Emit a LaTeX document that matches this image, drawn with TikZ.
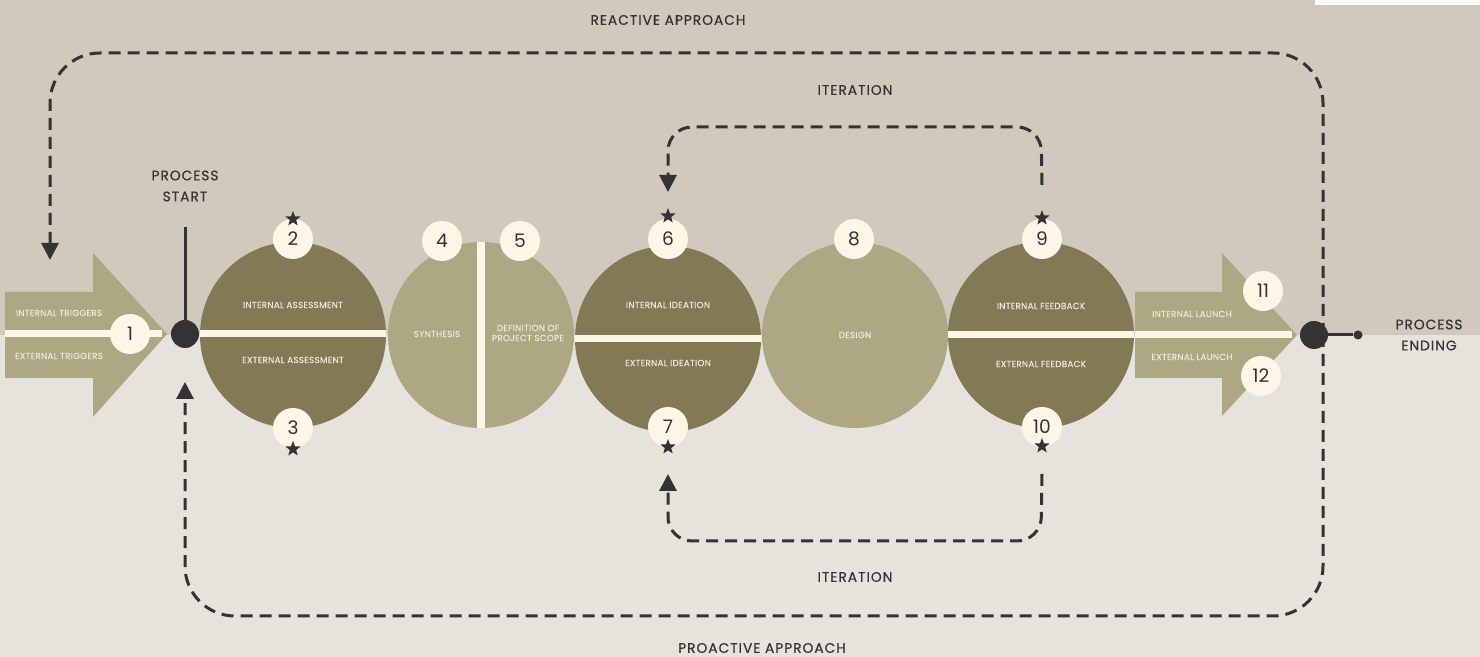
\documentclass[tikz,border=0pt]{standalone}
\usepackage{fontspec}
\setmainfont{Poppins}
\newfontfamily\capsfont[LetterSpace=7,FakeBold=0.4]{Poppins}
\newfontfamily\tinyfont[LetterSpace=3,FakeBold=0.3]{Poppins}
\usetikzlibrary{arrows.meta,shapes.geometric,positioning,calc}
\definecolor{bgTop}     {RGB}{208,201,188}
\definecolor{bgBottom}  {RGB}{230,227,221}
\definecolor{oliveDark} {RGB}{130,122, 85}
\definecolor{oliveLight}{RGB}{174,167,131}
\definecolor{cream}     {RGB}{253,245,230}
\definecolor{creamText} {RGB}{240,232,212}
\definecolor{inkDark}   {RGB}{ 51, 51, 51}

\begin{document}
\begin{tikzpicture}[x=0.5pt,y=-0.5pt,
    phase/.style={circle,minimum size=93pt,inner sep=0pt},
    badge/.style={circle,fill=cream,minimum size=20pt,inner sep=0pt,
                  font=\fontsize{9.3}{9.3}\selectfont,text=inkDark},
    starmark/.style={star,star points=5,star point ratio=2.4,fill=inkDark,
                     minimum size=8pt,inner sep=0pt},
    inlabel/.style={font=\tinyfont\fontsize{4.4}{5}\selectfont,
                    text=creamText,align=center},
    biglabel/.style={font=\capsfont\fontsize{6.9}{10.5}\selectfont,
                     text=inkDark,align=center},
    loopline/.style={inkDark,line width=1.5pt,dash pattern=on 6pt off 3.5pt,
                     -{Triangle[width=8.5pt,length=8.5pt]}}]

    \useasboundingbox (0,0) rectangle (1480,657);

    % ── BACKGROUND ────────────────────────────────────────
    \fill[bgTop] (0,0) rectangle (1480,335);
    \fill[bgBottom] (0,335) rectangle (1480,657);
    \fill[white] (1315,0) rectangle (1480,5);

    % ── ARROWS IN / OUT ───────────────────────────────────
    \fill[oliveLight] (5,292) -- (93,292) -- (93,253) -- (167,334)
      -- (93,417) -- (93,378) -- (5,378) -- cycle;
    \fill[cream] (5,330.5) rectangle (162,337.5);
    \node[inlabel] (trigIn)  at (59,313) {INTERNAL TRIGGERS};
    \node[inlabel] (trigEx)  at (59,356) {EXTERNAL TRIGGERS};

    \fill[oliveLight] (1135,292) -- (1222,292) -- (1222,253) -- (1297,335)
      -- (1222,416) -- (1222,378) -- (1135,378) -- cycle;
    \fill[cream] (1135,331.5) rectangle (1292,338.5);
    \node[inlabel] (launchIn) at (1192,314) {INTERNAL LAUNCH};
    \node[inlabel] (launchEx) at (1192,357) {EXTERNAL LAUNCH};

    % ── PHASES ────────────────────────────────────────────
    \node[phase,fill=oliveDark]  (assess) at (293,335) {};
    \fill[cream] (200,330.5) rectangle (386,337.5);
    \node[inlabel] at (293,305) {INTERNAL ASSESSMENT};
    \node[inlabel] at (293,360) {EXTERNAL ASSESSMENT};

    \node[phase,fill=oliveLight] (scope) at (481,335) {};
    \fill[cream] (477,242) rectangle (485,428);
    \node[inlabel] at (437,334) {SYNTHESIS};
    \node[inlabel] at (528,333) {DEFINITION OF\\PROJECT SCOPE};

    \node[phase,fill=oliveDark]  (ideate) at (668,339) {};
    \fill[cream] (575,335.5) rectangle (761,342.5);
    \node[inlabel] at (668,305) {INTERNAL IDEATION};
    \node[inlabel] at (668,363) {EXTERNAL IDEATION};

    \node[phase,fill=oliveLight] (design) at (855,335) {};
    \node[inlabel] at (855,335) {DESIGN};

    \node[phase,fill=oliveDark]  (feedback) at (1041,335) {};
    \fill[cream] (948,331.5) rectangle (1134,338.5);
    \node[inlabel] at (1041,306) {INTERNAL FEEDBACK};
    \node[inlabel] at (1041,364) {EXTERNAL FEEDBACK};

    % ── BADGES ────────────────────────────────────────────
    \foreach \n/\x/\y in {1/130/334,2/293/239,3/293/428,4/442/241,5/520/241,
                          6/668/239,7/668/427,8/854/239,9/1042/239,
                          10/1042/427,11/1263/291,12/1261/376}{
      \node[badge] (b\n) at (\x,\y) {\n};
    }
    \foreach \n/\x/\y in {2/293/219,3/293/449,6/668/216,7/668/447,
                          9/1042/218,10/1042/446}{
      \node[starmark] (s\n) at (\x,\y) {};
    }

    % ── LOOPS ─────────────────────────────────────────────
    \coordinate (endTap)   at (1323,335);
    \coordinate (reacEnd)  at (50,260);
    \coordinate (proEnd)   at (185,382);
    \coordinate (itTopEnd) at (668,192);
    \coordinate (itBotEnd) at (668,474);
    \draw[loopline,rounded corners=25pt]
      (endTap) -- (1323,53) -- (50,53) -- (reacEnd);
    \draw[loopline,rounded corners=25pt]
      (endTap) -- (1323,616) -- (185,616) -- (proEnd);
    \draw[loopline,rounded corners=12pt]
      ([yshift=12pt]s9.north) -- (1041,127) -- (668,127) -- (itTopEnd);
    \draw[loopline,rounded corners=12pt]
      ([yshift=-12pt]s10.south) -- (1041,541) -- (668,541) -- (itBotEnd);

    % ── START / END ───────────────────────────────────────
    \coordinate (startTop) at (185,227);
    \node[circle,fill=inkDark,minimum size=14pt,inner sep=0pt]
      (startDot) at (185,334) {};
    \draw[inkDark,line width=1.5pt] (startDot) -- (startTop);

    \node[circle,fill=inkDark,minimum size=4.5pt,inner sep=0pt]
      (endPin) at (1358,335) {};
    \draw[inkDark,line width=1.5pt] (1314,335) -- (endPin);
    \node[circle,fill=inkDark,minimum size=14pt,inner sep=0pt]
      (endDot) at (1314,335) {};

    % ── LABELS ────────────────────────────────────────────
    \node[biglabel] (lblStart)  at (185,186)  {PROCESS\\START};
    \node[biglabel] (lblEnd)    at (1429,335) {PROCESS\\ENDING};
    \node[biglabel] (lblReact)  at (668,20)   {REACTIVE APPROACH};
    \node[biglabel] (lblIterT)  at (855,90)   {ITERATION};
    \node[biglabel] (lblIterB)  at (855,577)  {ITERATION};
    \node[biglabel] (lblProact) at (762,648)  {PROACTIVE APPROACH};

\end{tikzpicture}
\end{document}
